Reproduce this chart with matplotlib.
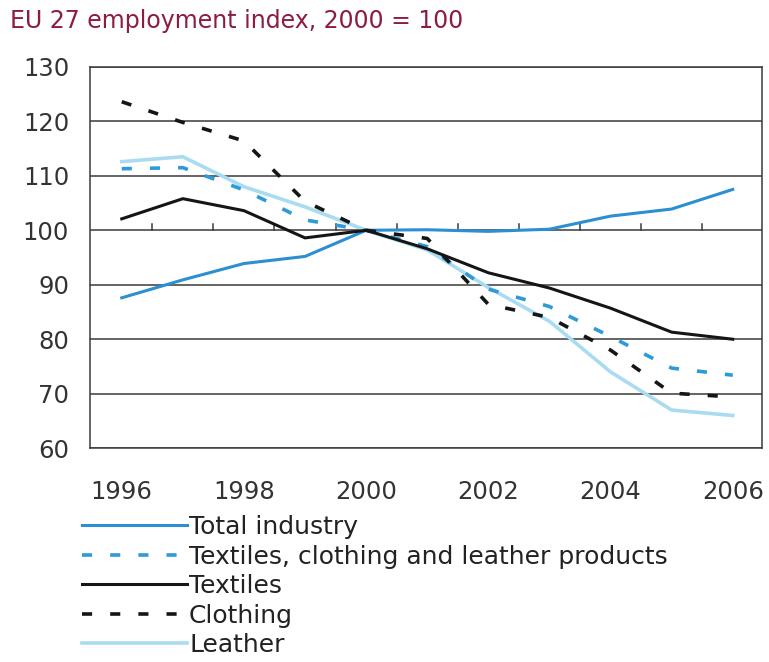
import numpy as np
import matplotlib
matplotlib.use("Agg")
import matplotlib.pyplot as plt

years = np.arange(1996, 2007)

total_industry = [87.6, 90.9, 93.9, 95.2, 100.0, 100.1, 99.8, 100.2, 102.6, 103.9, 107.5]
tcl_products = [111.3, 111.5, 107.4, 101.9, 100.0, 97.0, 89.2, 86.0, 80.5, 74.7, 73.4]
textiles = [102.1, 105.8, 103.6, 98.6, 100.0, 96.6, 92.2, 89.4, 85.7, 81.3, 80.0]
clothing = [123.6, 119.8, 116.4, 105.3, 100.0, 98.5, 86.4, 84.0, 78.0, 70.1, 69.4]
leather = [112.6, 113.5, 108.0, 104.3, 100.0, 96.4, 89.5, 83.3, 74.0, 67.0, 66.0]

labels = ["Total industry", "Textiles, clothing and leather products",
          "Textiles", "Clothing", "Leather"]
x_ticks = [1996, 1998, 2000, 2002, 2004, 2006]
y_ticks = [60, 70, 80, 90, 100, 110, 120, 130]

fig = plt.figure(figsize=(7.69, 6.62), dpi=100)
ax = fig.add_axes([0.117, 0.323, 0.874, 0.576])

grid_col = "#3a3a3a"
for v in y_ticks:
    ax.axhline(v, color=grid_col, lw=1.1, zorder=1)

# small category ticks sitting on the 100 line
for xb in years[:-1] + 0.5:
    ax.plot([xb, xb], [100, 101.1], color=grid_col, lw=1.1, zorder=1)

ax.plot(years, total_industry, color="#2b8fd2", lw=2.2, label=labels[0], zorder=3)
ax.plot(years, tcl_products, color="#2f9ad9", lw=2.6, dashes=(2.8, 5),
        label=labels[1], zorder=3)
ax.plot(years, textiles, color="#151515", lw=2.2, label=labels[2], zorder=3)
ax.plot(years, clothing, color="#151515", lw=2.6, dashes=(2.8, 5),
        label=labels[3], zorder=3)
ax.plot(years, leather, color="#a9dcf0", lw=2.6, label=labels[4], zorder=2)

ax.set_xlim(1995.48, 2006.48)
ax.set_ylim(60, 130)
ax.set_xticks(x_ticks)
ax.set_yticks(y_ticks)
ax.tick_params(axis="both", length=0, labelsize=17.5, labelcolor="#333333")
ax.tick_params(axis="x", pad=23)
ax.tick_params(axis="y", pad=15)
for s in ax.spines.values():
    s.set_color(grid_col)
    s.set_linewidth(1.1)

fig.text(0.013, 0.968, "EU 27 employment index, 2000 = 100", color="#8c1c44",
         fontsize=17, ha="left", va="center")

handles, labs = ax.get_legend_handles_labels()
leg = fig.legend(handles, labs, loc="upper left", bbox_to_anchor=(0.106, 0.222),
                 frameon=False, fontsize=18, handlelength=4.2, handletextpad=0.1,
                 labelspacing=0.22, borderpad=0, borderaxespad=0)
for t in leg.get_texts():
    t.set_color("#222222")

fig.savefig("out.png", dpi=100)
